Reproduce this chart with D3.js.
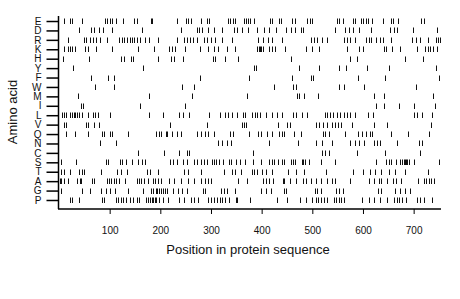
<!DOCTYPE html>
<html>
<head>
<meta charset="utf-8">
<script src="https://cdn.jsdelivr.net/npm/d3@7"></script>
<style>
  body { margin: 0; background: #fff; }
  svg { display: block; font-family: "Liberation Sans", Arial, sans-serif; }
</style>
</head>
<body>
<div id="chart"></div>
<script>
// amino acids, top to bottom
const aminoAcids = ["E", "D", "R", "K", "H", "Y", "F", "W", "M", "I", "L", "V", "Q", "N", "C", "S", "T", "A", "G", "P"];

// positions of each residue in the sequence
const posE = [10, 22, 26, 45, 90, 95, 100, 105, 113, 126, 149, 153, 182, 184, 232, 250, 254, 260, 281, 292, 297, 334, 338, 344, 347, 366, 369, 373, 377, 384, 416, 420, 434, 438, 460, 465, 490, 495, 500, 548, 552, 560, 580, 585, 597, 601, 606, 610, 618, 639, 655, 659, 670, 715, 721];
const posD = [40, 63, 69, 78, 87, 104, 164, 241, 272, 277, 282, 294, 306, 322, 345, 352, 362, 374, 391, 404, 415, 428, 448, 457, 465, 477, 481, 544, 564, 572, 580, 593, 615, 653, 662, 667, 698, 747];
const posR = [17, 49, 54, 61, 67, 74, 81, 95, 119, 124, 129, 134, 140, 144, 149, 154, 160, 169, 177, 195, 232, 247, 252, 259, 265, 272, 287, 293, 300, 308, 322, 341, 392, 403, 413, 421, 440, 498, 504, 509, 519, 528, 562, 568, 575, 585, 606, 611, 616, 625, 633, 639, 656, 697, 705, 712, 728, 744, 748, 752];
const posK = [10, 18, 22, 26, 31, 51, 57, 74, 105, 155, 188, 218, 223, 229, 249, 279, 295, 305, 314, 331, 348, 391, 394, 397, 399, 403, 414, 421, 426, 447, 488, 500, 513, 569, 593, 600, 641, 646, 658, 674, 706, 723, 728, 733, 739, 747];
const posH = [7, 59, 123, 128, 143, 146, 196, 222, 227, 244, 303, 308, 328, 353, 457, 575, 589, 683, 718];
const posY = [28, 166, 385, 388, 473, 514, 552, 567, 608, 651, 745];
const posF = [64, 97, 109, 278, 376, 460, 497, 502, 591, 644, 751];
const posW = [72, 109, 242, 266, 424, 461, 467, 552, 562, 602, 704];
const posM = [37, 178, 263, 372, 470, 474, 483, 511, 621, 641, 739];
const posI = [43, 47, 159, 248, 625, 642, 672, 701, 742];
const posL = [5, 10, 14, 22, 26, 29, 32, 36, 40, 46, 57, 67, 71, 76, 100, 177, 206, 237, 245, 256, 297, 318, 327, 334, 342, 352, 363, 368, 380, 386, 390, 397, 408, 421, 431, 441, 461, 467, 480, 490, 525, 529, 534, 541, 548, 555, 562, 568, 575, 584, 610, 619, 701, 706, 716, 737];
const posV = [10, 14, 53, 57, 69, 78, 220, 293, 362, 366, 370, 432, 450, 455, 508, 514, 521, 529, 538, 545, 550, 556, 579, 622, 647, 735];
const posQ = [14, 32, 58, 85, 89, 100, 105, 137, 192, 198, 202, 212, 214, 224, 232, 241, 273, 280, 289, 295, 306, 337, 344, 375, 392, 399, 410, 421, 434, 440, 444, 463, 477, 521, 525, 533, 565, 591, 599, 606, 613, 618, 656, 688, 730];
const posN = [81, 113, 313, 322, 331, 339, 415, 471, 507, 519, 538, 574, 585, 593, 603, 622, 627, 634, 668, 710, 716];
const posC = [155, 208, 237, 253, 257, 382, 519, 526, 533, 588, 643, 712];
const posS = [3, 34, 92, 96, 120, 124, 133, 145, 156, 163, 170, 220, 225, 233, 244, 252, 267, 272, 280, 287, 292, 302, 305, 310, 315, 324, 335, 339, 350, 358, 368, 382, 399, 415, 420, 425, 432, 440, 445, 457, 461, 465, 479, 482, 486, 494, 517, 544, 626, 646, 652, 656, 666, 674, 677, 680, 682, 685, 687, 691, 700, 750];
const posT = [4, 10, 22, 39, 46, 50, 82, 115, 123, 134, 173, 179, 196, 246, 254, 281, 326, 342, 347, 360, 380, 385, 391, 400, 409, 420, 452, 467, 483, 527, 580, 600, 613, 623, 635, 652, 664, 682, 728];
const posA = [1, 3, 10, 18, 36, 41, 44, 66, 69, 94, 98, 102, 108, 113, 118, 131, 153, 157, 162, 167, 175, 185, 190, 196, 202, 218, 227, 241, 255, 266, 280, 289, 295, 300, 353, 372, 403, 408, 414, 423, 442, 445, 455, 468, 481, 488, 498, 507, 518, 528, 538, 544, 575, 612, 622, 631, 636, 647, 660, 666, 676, 708, 720, 725, 730, 734, 740];
const posG = [3, 46, 61, 82, 92, 100, 110, 137, 165, 181, 186, 191, 194, 197, 201, 206, 210, 214, 225, 235, 242, 253, 285, 289, 320, 325, 331, 348, 399, 408, 418, 444, 448, 506, 509, 517, 547, 552, 560, 630, 635, 664, 673, 682, 692];
const posP = [22, 26, 39, 85, 89, 113, 117, 122, 126, 133, 140, 146, 153, 158, 171, 175, 179, 183, 186, 189, 192, 197, 206, 216, 237, 247, 261, 266, 275, 295, 301, 306, 312, 317, 322, 328, 335, 350, 352, 377, 431, 451, 475, 488, 499, 507, 512, 517, 523, 528, 542, 547, 552, 557, 563, 598, 612, 621, 634, 648, 661, 667, 672, 677, 685, 706, 712, 720, 737];

const xTicks = [100, 200, 300, 400, 500, 600, 700];
const seqLength = 754;

const positions = {
    E: posE, D: posD, R: posR, K: posK, H: posH, Y: posY, F: posF, W: posW, M: posM, I: posI,
    L: posL, V: posV, Q: posQ, N: posN, C: posC, S: posS, T: posT, A: posA, G: posG, P: posP
};

// flatten into marks
const marks = [];
aminoAcids.forEach(aa => {
    positions[aa].forEach(p => marks.push({ aa: aa, pos: p }));
});

const width = 460, height = 299;
const left = 59, right = 441, bottomY = 209;

const svg = d3.select("#chart").append("svg")
    .attr("width", width)
    .attr("height", height);

const x = d3.scaleLinear()
    .domain([0, seqLength])
    .range([left, right]);

const y = d3.scalePoint()
    .domain(aminoAcids)
    .range([16.3, 204.7])
    .padding(0.5);

// marks
svg.append("g")
    .selectAll("line")
    .data(marks)
    .join("line")
    .attr("x1", d => Math.round(x(d.pos)) + 0.5)
    .attr("x2", d => Math.round(x(d.pos)) + 0.5)
    .attr("y1", d => Math.round(y(d.aa)) - 2.5)
    .attr("y2", d => Math.round(y(d.aa)) + 3)
    .attr("stroke", "#111")
    .attr("stroke-width", 1);

// y axis
const yAxis = svg.append("g")
    .attr("transform", `translate(${left - 0.5},0)`)
    .call(d3.axisLeft(y).tickSize(12).tickSizeOuter(0).tickPadding(5));
yAxis.select(".domain").remove();
yAxis.selectAll("line").attr("stroke", "#000").attr("stroke-width", 1.5);
yAxis.selectAll("text")
    .style("font-size", "10px")
    .attr("fill", "#111");

svg.append("line")
    .attr("x1", left - 0.5).attr("x2", left - 0.5)
    .attr("y1", 16).attr("y2", bottomY)
    .attr("stroke", "#000").attr("stroke-width", 1.5);

// x axis
const xAxis = svg.append("g")
    .attr("transform", `translate(0,${bottomY})`)
    .call(d3.axisBottom(x).tickValues(xTicks).tickSize(5).tickSizeOuter(0).tickPadding(13));
xAxis.select(".domain").attr("stroke-width", 1.5)
    .attr("d", `M${left - 1},0H${right}`);
xAxis.selectAll("line").attr("stroke", "#000");
xAxis.selectAll("text")
    .style("font-size", "10px")
    .attr("fill", "#111");

// axis titles
svg.append("text")
    .attr("x", 248)
    .attr("y", 254)
    .attr("text-anchor", "middle")
    .style("font-size", "13px")
    .attr("fill", "#111")
    .text("Position in protein sequence");

svg.append("text")
    .attr("transform", "rotate(-90)")
    .attr("x", -112)
    .attr("y", 17)
    .attr("text-anchor", "middle")
    .style("font-size", "13px")
    .attr("fill", "#111")
    .text("Amino acid");
</script>
</body>
</html>
